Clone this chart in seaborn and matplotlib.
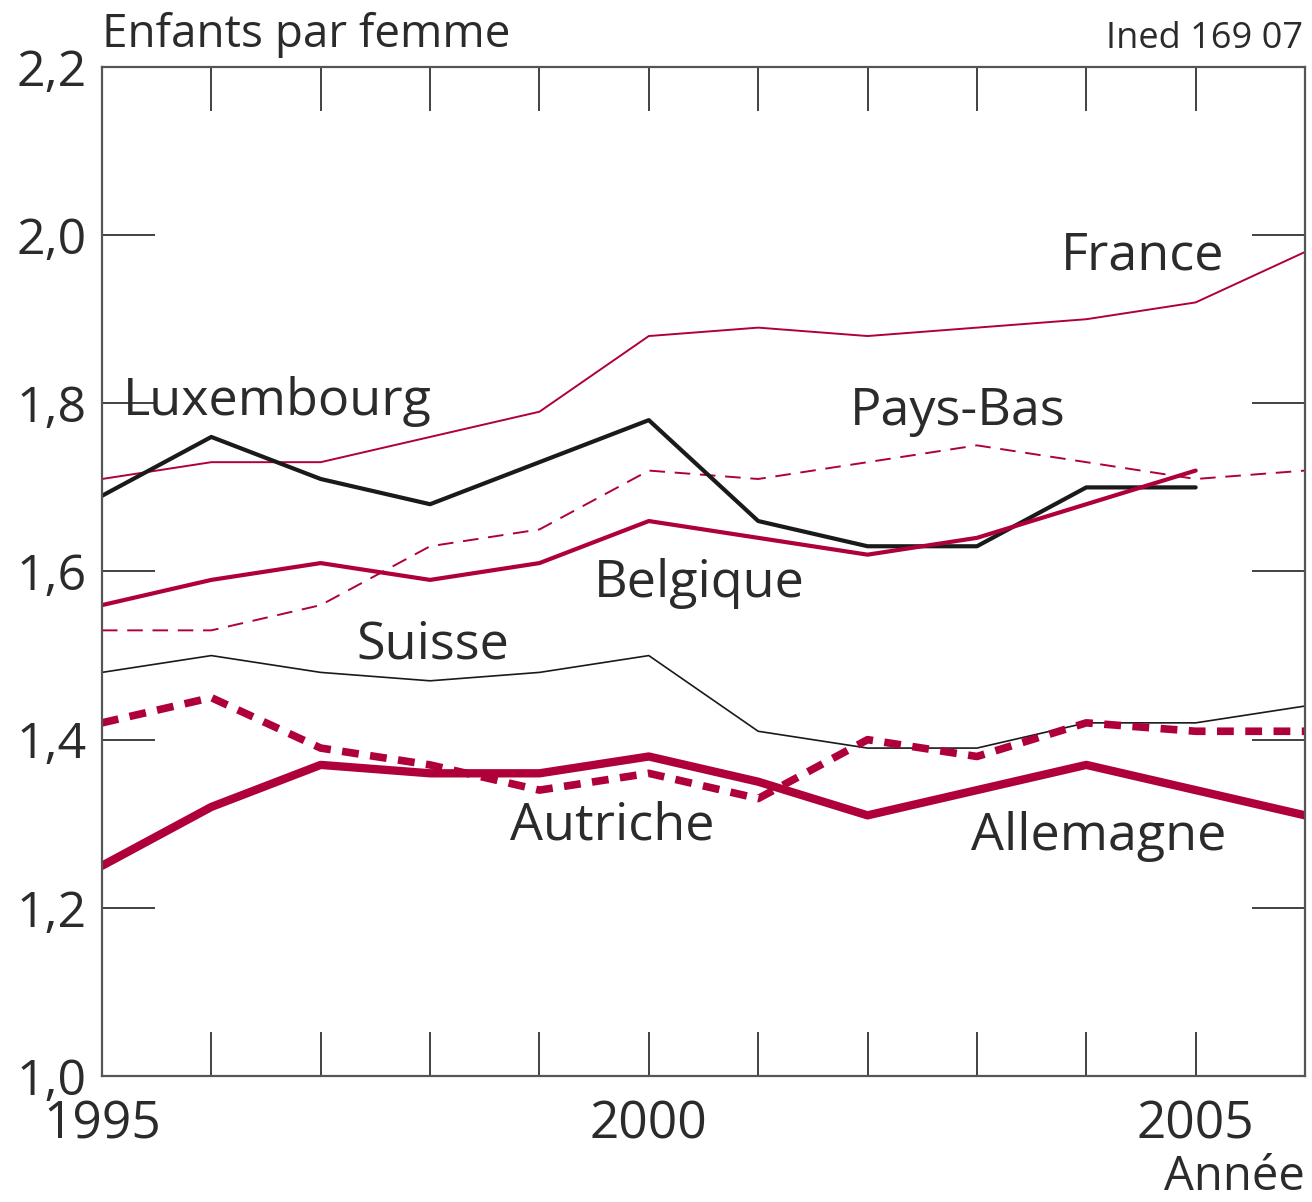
import numpy as np
import pandas as pd
import matplotlib
matplotlib.use("Agg")
import matplotlib.pyplot as plt
import seaborn as sns

# Indicateur conjoncturel de fécondité, 1995-2006
annees = list(range(1995, 2007))
france = [1.71, 1.73, 1.73, 1.76, 1.79, 1.88, 1.89, 1.88, 1.89, 1.90, 1.92, 1.98]
luxembourg = [1.69, 1.76, 1.71, 1.68, 1.73, 1.78, 1.66, 1.63, 1.63, 1.70, 1.70, np.nan]
pays_bas = [1.53, 1.53, 1.56, 1.63, 1.65, 1.72, 1.71, 1.73, 1.75, 1.73, 1.71, 1.72]
belgique = [1.56, 1.59, 1.61, 1.59, 1.61, 1.66, 1.64, 1.62, 1.64, 1.68, 1.72, np.nan]
suisse = [1.48, 1.50, 1.48, 1.47, 1.48, 1.50, 1.41, 1.39, 1.39, 1.42, 1.42, 1.44]
autriche = [1.42, 1.45, 1.39, 1.37, 1.34, 1.36, 1.33, 1.40, 1.38, 1.42, 1.41, 1.41]
allemagne = [1.25, 1.32, 1.37, 1.36, 1.36, 1.38, 1.35, 1.31, 1.34, 1.37, 1.34, 1.31]

ROUGE = "#b0003a"
NOIR = "#1a1a1a"
TEXTE = "#2b2b2b"

sns.set_style("white")
plt.rcParams["font.family"] = ["Open Sans", "DejaVu Sans"]

fig = plt.figure(figsize=(13.12, 12.02), dpi=100)
ax = fig.add_axes([0.0777, 0.1048, 0.917, 0.8395])

series = [
    (france, ROUGE, 1.4, "-"),
    (pays_bas, ROUGE, 1.4, (0, (8, 5))),
    (suisse, NOIR, 1.2, "-"),
    (luxembourg, NOIR, 3.0, "-"),
    (belgique, ROUGE, 3.0, "-"),
    (autriche, ROUGE, 5.5, (0, (2.2, 1.5))),
    (allemagne, ROUGE, 6.0, "-"),
]
for vals, col, lw, ls in series:
    df = pd.DataFrame({"annee": annees, "val": vals}).dropna()
    sns.lineplot(data=df, x="annee", y="val", color=col, linewidth=lw,
                 linestyle=ls, ax=ax, legend=False)

ax.set_xlim(1995, 2006)
ax.set_ylim(1.0, 2.2)
ax.set_xlabel("")
ax.set_ylabel("")

ax.set_xticks(annees)
ax.set_xticklabels([str(a) if a in (1995, 2000, 2005) else "" for a in annees])
yt = [1.0, 1.2, 1.4, 1.6, 1.8, 2.0, 2.2]
ax.set_yticks(yt)
ax.set_yticklabels([f"{v:.1f}".replace(".", ",") for v in yt])

ax.tick_params(axis="x", direction="in", length=32, width=1.3, color="#333333",
               top=True, bottom=True, labelsize=37, labelcolor=TEXTE, pad=17)
ax.tick_params(axis="y", direction="in", length=38, width=1.3, color="#333333",
               left=True, right=True, labelsize=36, labelcolor=TEXTE, pad=11)

for s in ax.spines.values():
    s.set_color("#555555")
    s.set_linewidth(1.6)

# étiquettes des pays
etiquettes = [
    ("France", 2003.77, 1.959),
    ("Luxembourg", 1995.19, 1.786),
    ("Pays-Bas", 2001.84, 1.774),
    ("Belgique", 1999.5, 1.570),
    ("Suisse", 1997.33, 1.497),
    ("Autriche", 1998.73, 1.281),
    ("Allemagne", 2002.95, 1.269),
]
for nom, x, y in etiquettes:
    ax.text(x, y, nom, fontsize=37.5, color=TEXTE, ha="left", va="baseline")

fig.text(102 / 1312, 1 - 47 / 1202, "Enfants par femme", fontsize=33,
         color=TEXTE, ha="left", va="baseline")
fig.text(1303 / 1312, 1 - 48 / 1202, "Ined 169 07", fontsize=26,
         color=TEXTE, ha="right", va="baseline")
fig.text(1305 / 1312, 1 - 1190 / 1202, "Année", fontsize=34,
         color=TEXTE, ha="right", va="baseline")

fig.savefig("out.png", dpi=100, facecolor="white")
